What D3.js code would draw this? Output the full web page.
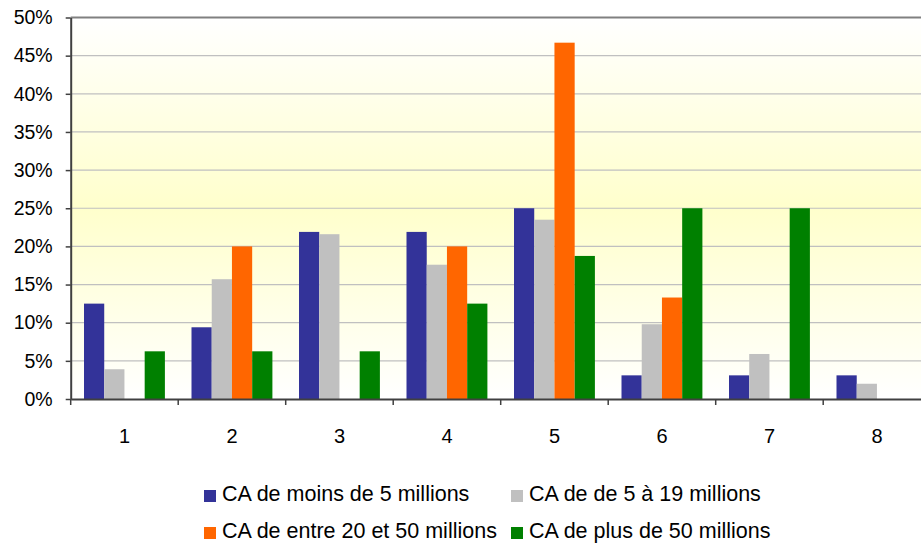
<!DOCTYPE html>
<html>
<head>
<meta charset="utf-8">
<script src="https://cdn.jsdelivr.net/npm/d3@7"></script>
<style>
    body { margin: 0; background: #ffffff; }
    svg { display: block; font-family: 'Liberation Sans', Arial, sans-serif; }
</style>
</head>
<body>
<div id="chart"></div>
<script>
// Data
const categories = ['1', '2', '3', '4', '5', '6', '7', '8']
const seriesNames = [
    'CA de moins de 5 millions',
    'CA de de 5 à 19 millions',
    'CA de entre 20 et 50 millions',
    'CA de plus de 50 millions'
]
const moins5 = [12.5, 9.4, 21.9, 21.9, 25.0, 3.1, 3.1, 3.1]
const de5a19 = [3.9, 15.7, 21.6, 17.6, 23.5, 9.8, 5.9, 2.0]
const entre20et50 = [0, 20.0, 0, 20.0, 46.7, 13.3, 0, 0]
const plus50 = [6.25, 6.25, 6.25, 12.5, 18.75, 25.0, 25.0, 0]
const yTicks = [0, 5, 10, 15, 20, 25, 30, 35, 40, 45, 50]

const seriesValues = [moins5, de5a19, entre20et50, plus50]
const colors = ['#333399', '#C0C0C0', '#FF6600', '#008000']

// Constants
const width = 921
const height = 544
const margin = { top: 17.5, left: 70.7 }
// the plot area runs past the right edge of the picture
const graphWidth = 860
const graphHeight = 399 - margin.top

const svg = d3.select('#chart')
    .append('svg')
    .attr('width', width)
    .attr('height', height)

// Background gradient
const grad = svg.append('defs').append('linearGradient')
    .attr('id', 'bg')
    .attr('x1', 0).attr('y1', 0).attr('x2', 0).attr('y2', 1)
grad.append('stop').attr('offset', '0%').attr('stop-color', '#ffffff')
grad.append('stop').attr('offset', '50%').attr('stop-color', '#ffffcc')
grad.append('stop').attr('offset', '100%').attr('stop-color', '#ffffff')

const g = svg.append('g')
    .attr('transform', `translate(${margin.left}, ${margin.top})`)

g.append('rect')
    .attr('width', graphWidth)
    .attr('height', graphHeight)
    .attr('fill', 'url(#bg)')

// Scales
const x0 = d3.scaleBand()
    .domain(categories)
    .range([0, graphWidth])
    .padding(0)

const gap = 13.3
const x1 = d3.scaleBand()
    .domain(d3.range(seriesNames.length))
    .range([gap, x0.bandwidth() - gap])
    .padding(0)

const y = d3.scaleLinear()
    .domain([0, 50])
    .range([graphHeight, 0])

// Grid lines
g.append('g')
    .selectAll('line')
    .data(yTicks.filter(d => d > 0 && d < 50))
    .join('line')
    .attr('x1', 0)
    .attr('x2', graphWidth)
    .attr('y1', d => y(d))
    .attr('y2', d => y(d))
    .attr('stroke', '#c0c0c0')
    .attr('stroke-width', 1.2)

// top border
g.append('line')
    .attr('x1', 0).attr('x2', graphWidth)
    .attr('y1', 0).attr('y2', 0)
    .attr('stroke', '#808080')
    .attr('stroke-width', 2)

// Bars
const tableData = categories.map((c, i) => ({
    cat: c,
    values: seriesValues.map((s, k) => ({ k: k, v: s[i] }))
}))

g.selectAll('.group')
    .data(tableData)
    .join('g')
    .attr('class', 'group')
    .attr('transform', d => `translate(${x0(d.cat)}, 0)`)
    .selectAll('rect')
    .data(d => d.values.filter(e => e.v > 0))
    .join('rect')
    .attr('x', d => x1(d.k))
    .attr('width', x1.bandwidth())
    .attr('y', d => y(d.v))
    .attr('height', d => graphHeight - y(d.v))
    .attr('fill', d => colors[d.k])

// Axes
const yAxis = d3.axisLeft(y)
    .tickValues(yTicks)
    .tickFormat(d => d + '%')
    .tickSizeInner(5)
    .tickSizeOuter(0)
    .tickPadding(13)

const yAxisGroup = g.append('g').call(yAxis)
yAxisGroup.select('.domain')
    .attr('stroke', '#404040')
    .attr('stroke-width', 2)
yAxisGroup.selectAll('.tick line')
    .attr('stroke', '#404040')
    .attr('stroke-width', 1.5)
yAxisGroup.selectAll('text')
    .attr('fill', '#000')
    .style('font-size', '19.5px')
    .style('font-family', "'Liberation Sans', Arial, sans-serif")

const xAxis = d3.axisBottom(x0)
    .tickSize(0)
    .tickPadding(30)

const xAxisGroup = g.append('g')
    .attr('transform', `translate(0, ${graphHeight})`)
    .call(xAxis)
xAxisGroup.select('.domain')
    .attr('stroke', '#404040')
    .attr('stroke-width', 2)
xAxisGroup.selectAll('text')
    .attr('fill', '#000')
    .style('font-size', '20px')
    .style('font-family', "'Liberation Sans', Arial, sans-serif")

// category separator ticks
xAxisGroup.append('g')
    .selectAll('line')
    .data(categories)
    .join('line')
    .attr('x1', d => x0(d))
    .attr('x2', d => x0(d))
    .attr('y1', 0)
    .attr('y2', 6)
    .attr('stroke', '#404040')
    .attr('stroke-width', 1.5)

// Legend
const legendPos = [
    { x: 204, y: 490 },
    { x: 511, y: 490 },
    { x: 204, y: 527 },
    { x: 511, y: 527 }
]

const legend = svg.append('g')
    .selectAll('g')
    .data(seriesNames)
    .join('g')
    .attr('transform', (d, i) => `translate(${legendPos[i].x}, ${legendPos[i].y})`)

legend.append('rect')
    .attr('width', 12)
    .attr('height', 12)
    .attr('fill', (d, i) => colors[i])

legend.append('text')
    .attr('x', 18)
    .attr('y', 11)
    .attr('fill', '#000')
    .style('font-size', '21.5px')
    .text(d => d)
</script>
</body>
</html>
